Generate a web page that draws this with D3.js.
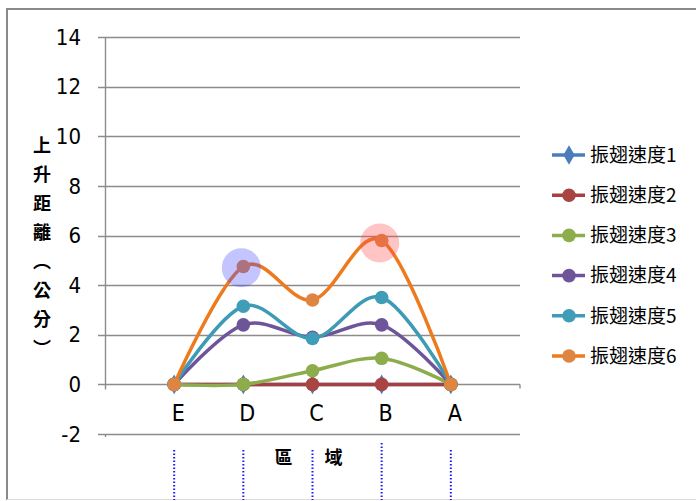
<!DOCTYPE html>
<html><head><meta charset="utf-8">
<script src="https://cdn.jsdelivr.net/npm/d3@7"></script>
<style>
html,body{margin:0;padding:0;background:#fff;}
svg{display:block;}
</style></head>
<body>
<svg id="c" width="696" height="501"></svg>
<script>
const categories = ["E","D","C","B","A"];
const xPositions = [1,2,3,4,5];
const seriesNames = ["振翅速度1","振翅速度2","振翅速度3","振翅速度4","振翅速度5","振翅速度6"];
const speed1 = [0,0,0,0,0];
const speed2 = [0,0,0,0,0];
const speed3 = [0,0,0.55,1.05,0];
const speed4 = [0,2.4,1.9,2.4,0];
const speed5 = [0,3.15,1.85,3.5,0];
const speed6 = [0,4.75,3.4,5.8,0];
const yTicks = [-2,0,2,4,6,8,10,12,14];
const highlightX = [2,4];
const highlightY = [4.7,5.7];

const seriesValues = [speed1,speed2,speed3,speed4,speed5,speed6];
const lineColors = ["#4a7ebb","#a5403e","#8dac4c","#6e5599","#3d9bb5","#ee7a1e"];
const markerColors = ["#4a7ebb","#a84442","#8dac4c","#6e5599","#3f9db7","#de8641"];
const markerShapes = ["diamond","circle","circle","circle","circle","circle"];
const highlightColors = ["rgba(70,70,255,0.32)","rgba(255,70,70,0.32)"];

const svg = d3.select("#c");
const x = d3.scaleLinear().domain([0,6]).range([105,520]);
const y = d3.scaleLinear().domain([-2,14]).range([434,37]);
const numFont = "'Liberation Sans Narrow','DejaVu Sans Condensed',Lato,sans-serif";
const cjk = "'Noto Sans CJK TC','Noto Sans CJK SC',sans-serif";

// frame
svg.append("line").attr("x1",6).attr("x2",696).attr("y1",9).attr("y2",9).attr("stroke","#8a8a8a").attr("stroke-width",2);
svg.append("line").attr("x1",7).attr("x2",7).attr("y1",8).attr("y2",500).attr("stroke","#8a8a8a").attr("stroke-width",2);
svg.append("line").attr("x1",7).attr("x2",696).attr("y1",499.5).attr("y2",499.5).attr("stroke","#dcdcdc").attr("stroke-width",1);

// gridlines
const grid = svg.append("g");
grid.selectAll("line").data(yTicks).join("line")
  .attr("x1",98).attr("x2",520)
  .attr("y1",d=>Math.round(y(d))+0.5).attr("y2",d=>Math.round(y(d))+0.5)
  .attr("stroke","#8c8c8c").attr("stroke-width",1.4);

// y axis line
svg.append("line").attr("x1",105.5).attr("x2",105.5).attr("y1",y(14)).attr("y2",y(0)+5)
  .attr("stroke","#8c8c8c").attr("stroke-width",1.4);
svg.append("line").attr("x1",105.5).attr("x2",105.5).attr("y1",y(-2)).attr("y2",y(-2)+3)
  .attr("stroke","#8c8c8c").attr("stroke-width",1.4);
svg.append("line").attr("x1",520).attr("x2",520).attr("y1",y(0)).attr("y2",y(0)+4)
  .attr("stroke","#8c8c8c").attr("stroke-width",1.4);

// y tick labels
svg.append("g").selectAll("text").data(yTicks).join("text")
  .attr("x",81).attr("y",d=>y(d)).attr("dy","0.35em")
  .attr("text-anchor","end").attr("font-family",numFont).attr("font-size",22)
  .attr("fill","#000").text(d=>d);

// x category labels
svg.append("g").selectAll("text").data(categories).join("text")
  .attr("x",(d,i)=>x(xPositions[i])+4).attr("y",421)
  .attr("text-anchor","middle").attr("font-family",numFont).attr("font-size",23)
  .attr("fill","#000").text(d=>d);

// lines
const line = d3.line().x((d,i)=>x(xPositions[i])).y(d=>y(d)).curve(d3.curveCardinal.tension(0));
const plot = svg.append("g");
seriesValues.forEach((vals,si)=>{
  const g = plot.append("g");
  g.append("path").attr("d",line(vals)).attr("fill","none")
    .attr("stroke",lineColors[si]).attr("stroke-width",3.5).attr("stroke-linecap","round");
  if(markerShapes[si]==="diamond"){
    g.selectAll("path.m").data(vals).join("path").attr("class","m")
      .attr("d",d3.symbol(d3.symbolDiamond,110))
      .attr("transform",(d,i)=>`translate(${x(xPositions[i])},${y(d)})`)
      .attr("fill",markerColors[si]);
  } else {
    g.selectAll("circle").data(vals).join("circle")
      .attr("cx",(d,i)=>x(xPositions[i])).attr("cy",d=>y(d)).attr("r",6.8)
      .attr("fill",markerColors[si]);
  }
});

// highlight circles
svg.append("g").selectAll("circle").data(highlightX).join("circle")
  .attr("cx",d=>x(d)-2).attr("cy",(d,i)=>y(highlightY[i])).attr("r",19.5)
  .attr("fill",(d,i)=>highlightColors[i]);

// y title (vertical)
svg.append("text").attr("x",42).attr("y",136)
  .attr("font-family",cjk).attr("font-size",18).attr("font-weight","bold")
  .style("writing-mode","vertical-rl").style("letter-spacing","11px")
  .attr("fill","#000").text("上升距離（公分）");

// x title
svg.append("text").attr("x",312).attr("y",464).attr("text-anchor","middle")
  .attr("font-family",cjk).attr("font-size",18).attr("font-weight","bold")
  .style("letter-spacing","7px")
  .attr("fill","#000").text("區　域");

// dotted annotation lines
svg.append("g").selectAll("line").data(xPositions).join("line")
  .attr("x1",d=>x(d)).attr("x2",d=>x(d)).attr("y1",(d,i)=>i===3?443:450).attr("y2",500)
  .attr("stroke","#1a1aff").attr("stroke-width",2).attr("stroke-dasharray","1.5,2");

// legend
const leg = svg.append("g");
seriesNames.forEach((name,i)=>{
  const ly = 155 + i*40.2;
  leg.append("line").attr("x1",552).attr("x2",585).attr("y1",ly).attr("y2",ly)
    .attr("stroke",lineColors[i]).attr("stroke-width",3.5);
  if(markerShapes[i]==="diamond"){
    leg.append("path").attr("d",d3.symbol(d3.symbolDiamond,110)).attr("transform",`translate(569,${ly})`).attr("fill",markerColors[i]);
  } else {
    leg.append("circle").attr("cx",569).attr("cy",ly).attr("r",6.8).attr("fill",markerColors[i]);
  }
  leg.append("text").attr("x",590).attr("y",ly).attr("dy","0.36em")
    .attr("font-family",cjk).attr("font-size",19).attr("fill","#000").text(name);
});
</script>
</body></html>
